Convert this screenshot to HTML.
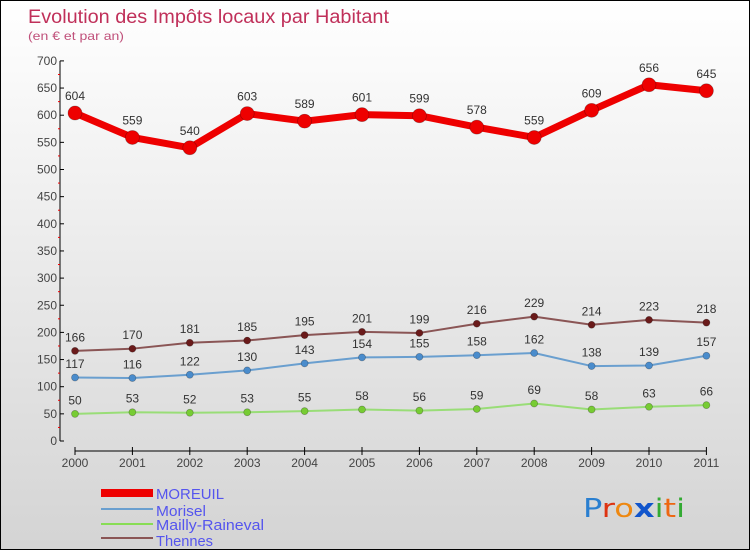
<!DOCTYPE html>
<html><head><meta charset="utf-8"><style>
body{margin:0}
#c{width:748px;height:548px;border:1px solid #000;background:linear-gradient(#ffffff,#d4d4d4);position:relative;overflow:hidden;font-family:"Liberation Sans",sans-serif}
</style></head><body>
<div id="c">
<svg id="s" width="748" height="548" xmlns="http://www.w3.org/2000/svg" font-family="Liberation Sans, sans-serif">
<text x="27" y="22" font-size="19" fill="#c0305a" textLength="361" lengthAdjust="spacingAndGlyphs">Evolution des Impôts locaux par Habitant</text>
<text x="27" y="39" font-size="12" fill="#c0507a" textLength="96" lengthAdjust="spacingAndGlyphs">(en € et par an)</text>
<g id="axes"></g><g id="series"></g>
<g>
<rect x="100" y="488" width="52" height="8" fill="#e00"/>
<text x="155" y="498" font-size="15" fill="#5555ee" textLength="68" lengthAdjust="spacingAndGlyphs">MOREUIL</text>
<rect x="100" y="507" width="52" height="2" fill="#6a9fcf"/>
<text x="155" y="515" font-size="15" fill="#5555ee" textLength="50" lengthAdjust="spacingAndGlyphs">Morisel</text>
<rect x="100" y="522" width="52" height="2" fill="#88dd55"/>
<text x="155" y="529" font-size="15" fill="#5555ee" textLength="108" lengthAdjust="spacingAndGlyphs">Mailly-Raineval</text>
<rect x="100" y="536" width="52" height="2" fill="#8a5555"/>
<text x="155" y="545" font-size="15" fill="#5555ee" textLength="57" lengthAdjust="spacingAndGlyphs">Thennes</text>
</g>
<text x="582" y="516" font-size="26" font-family="DejaVu Sans, sans-serif" textLength="102" lengthAdjust="spacingAndGlyphs"><tspan fill="#2a7fd0">P</tspan><tspan fill="#dd3311">r</tspan><tspan fill="#ee8811">o</tspan><tspan fill="#1155cc" font-weight="bold">x</tspan><tspan fill="#33aa33">i</tspan><tspan fill="#ee6611">t</tspan><tspan fill="#33aa33">i</tspan></text>
</svg></div>
<script>
const years=[2000,2001,2002,2003,2004,2005,2006,2007,2008,2009,2010,2011];
const moreuil=[604,559,540,603,589,601,599,578,559,609,656,645];
const morisel=[117,116,122,130,143,154,155,158,162,138,139,157];
const mailly=[50,53,52,53,55,58,56,59,69,58,63,66];
const thennes=[166,170,181,185,195,201,199,216,229,214,223,218];
const yTicks=[0,50,100,150,200,250,300,350,400,450,500,550,600,650,700];
const NS="http://www.w3.org/2000/svg";
const X=i=>74+i*57.4, Y=v=>440-v*0.543;
const ax=document.getElementById('axes'), se=document.getElementById('series');
function mk(tag,attrs,parent,txt){const e=document.createElementNS(NS,tag);for(const k in attrs)e.setAttribute(k,attrs[k]);if(txt!==undefined)e.textContent=txt;parent.appendChild(e);return e;}
let e=mk('line',{x1:59,y1:Y(700),x2:59,y2:Y(0),stroke:'#000'},ax);


yTicks.forEach(v=>{
 mk('line',{x1:59,y1:Y(v),x2:63,y2:Y(v),stroke:'#000'},ax);
 if(v<700) mk('line',{x1:57,y1:Y(v+25),x2:59,y2:Y(v+25),stroke:'#e00'},ax);
 const t=mk('text',{x:56,y:Y(v)+4,'text-anchor':'end','font-size':12,fill:'#444'},ax,v);
 
 
});
e=mk('line',{x1:X(0),y1:450,x2:X(11),y2:450,stroke:'#000'},ax);


years.forEach((y,i)=>{
 mk('line',{x1:X(i),y1:446,x2:X(i),y2:454,stroke:'#000'},ax);
 const t=mk('text',{x:X(i),y:466,'text-anchor':'middle','font-size':12,fill:'#444'},ax,y);
 
 
});
function series(vals,name,color,dot,lw,r,fs){
 const g=mk('g',{},se);
 
 
 mk('polyline',{points:vals.map((v,i)=>X(i)+','+Y(v)).join(' '),fill:'none',stroke:color,'stroke-width':lw,'stroke-linejoin':'round'},g);
 vals.forEach((v,i)=>{
  const c=mk('circle',{cx:X(i),cy:Y(v),r:r,fill:dot,stroke:'rgba(0,0,0,0.3)','stroke-width':0.7},g);
  
  
  const t=mk('text',{x:X(i),y:Y(v)-(r+6),'text-anchor':'middle','font-size':fs,fill:'#333'},g,v);
  
  
 });
}
series(mailly,'mailly-raineval','#99dd77','#77cc33',2,3.5,12);
series(morisel,'morisel','#6a9fcf','#4a8ccc',2,3.5,12);
series(thennes,'thennes','#8a5555','#6a1a1a',2,3.5,12);
series(moreuil,'moreuil','#ee0000','#ee0000',7,7,12);
</script>
</body></html>
